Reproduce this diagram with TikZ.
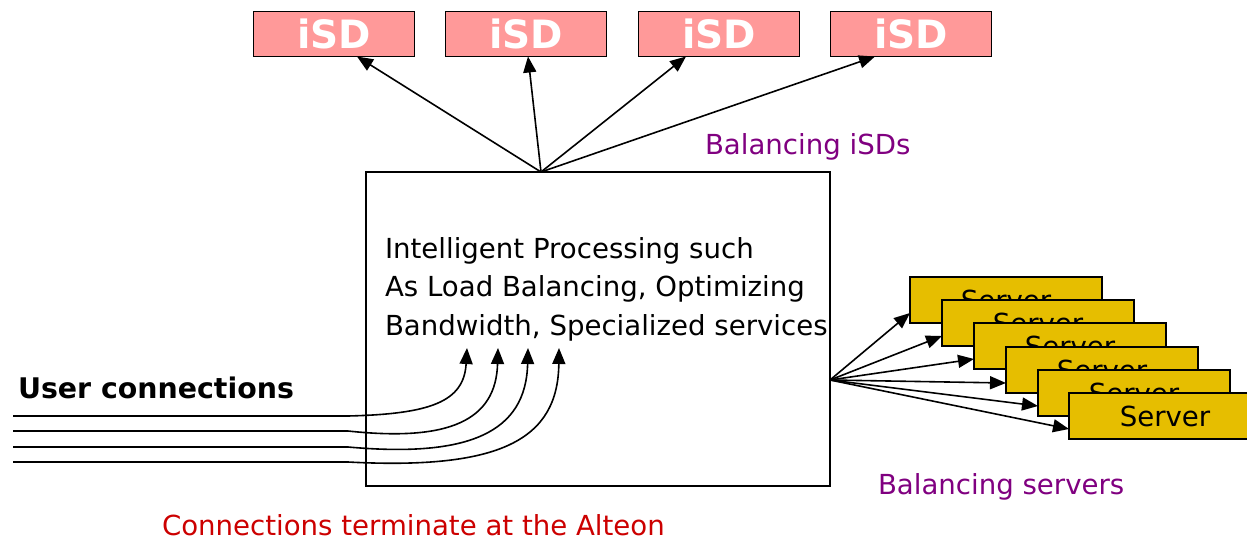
\documentclass[tikz,border=0pt]{standalone}
\usepackage{fontspec}
\setmainfont{DejaVu Sans}
\usetikzlibrary{arrows.meta}
\definecolor{isdpink}{RGB}{255,153,153}
\definecolor{srvgold}{RGB}{230,190,0}
\definecolor{lblpurple}{RGB}{128,0,128}
\definecolor{lblred}{RGB}{204,0,0}
\begin{document}
\begin{tikzpicture}[x=1pt, y=-1pt, line width=1.6pt,
    every node/.style={outer sep=0pt, inner sep=0pt},
    txt/.style={font=\fontsize{27.6}{38.5}\selectfont},
    isdbox/.style={draw, fill=isdpink, minimum width=161pt, minimum height=45pt, text=white, font=\fontsize{39}{40}\selectfont\bfseries},
    srvbox/.style={draw, fill=srvgold, minimum width=192pt, minimum height=46pt, txt},
    tip/.style={-{Triangle[length=16pt, width=13pt]}}]
    \useasboundingbox (0,0) rectangle (1247,541);
        \node[isdbox] (isd1) at (334, 34) {iSD};
        \node[isdbox] (isd2) at (526, 34) {iSD};
        \node[isdbox] (isd3) at (719, 34) {iSD};
        \node[isdbox] (isd4) at (911, 34) {iSD};
        \node[draw, minimum width=464pt, minimum height=314pt] (alteon) at (598, 329) {};
        \node[txt, anchor=west, align=left] (proc) at (385, 289) {Intelligent Processing such\\As Load Balancing, Optimizing\\Bandwidth, Specialized services};
        \node[txt, text=lblpurple, anchor=west] (balisd) at (705, 147) {Balancing iSDs};
        \node[txt, text=lblpurple, anchor=west] (balsrv) at (878, 487) {Balancing servers};
        \node[txt, text=lblred, anchor=west] (term) at (162, 525) {Connections terminate at the Alteon};
        \node[txt, font=\fontsize{28.4}{30}\selectfont\bfseries, anchor=west] (users) at (18, 388) {User connections};
        \node[srvbox] (srv1) at (1006, 300) {Server};
        \node[srvbox] (srv2) at (1038, 323) {Server};
        \node[srvbox] (srv3) at (1070, 346) {Server};
        \node[srvbox] (srv4) at (1102, 370) {Server};
        \node[srvbox] (srv5) at (1134, 393) {Server};
        \node[srvbox] (srv6) at (1165, 416) {Server};
        \coordinate (hub) at (541, 172);
        \coordinate (srvhub) at (830, 380);
        \draw[tip] (hub) -- ([xshift=23pt]isd1.south);
        \draw[tip] (hub) -- ([xshift=2pt]isd2.south);
        \draw[tip] (hub) -- ([xshift=-33pt]isd3.south);
        \draw[tip] (hub) -- ([xshift=-36pt]isd4.south);
        \draw[tip] (srvhub) -- ([yshift=10pt]srv1.south west);
        \draw[tip] (srvhub) -- ([yshift=10pt]srv2.south west);
        \draw[tip] (srvhub) -- ([yshift=10pt]srv3.south west);
        \draw[tip] (srvhub) -- ([yshift=10pt]srv4.south west);
        \draw[tip] (srvhub) -- ([yshift=10pt]srv5.south west);
        \draw[tip] (srvhub) -- ([yshift=10pt]srv6.south west);
        \coordinate (u1) at (13, 416);
        \coordinate (u2) at (13, 431);
        \coordinate (u3) at (13, 447);
        \coordinate (u4) at (13, 462);
        \coordinate (k1) at (348, 416);
        \coordinate (k2) at (348, 431);
        \coordinate (k3) at (348, 447);
        \coordinate (k4) at (348, 462);
        \coordinate (t1) at (467, 348);
        \coordinate (t2) at (498, 348);
        \coordinate (t3) at (528, 348);
        \coordinate (t4) at (559, 348);
        \draw[tip] (u1) -- (k1) .. controls (430, 414) and (464, 402) .. (t1);
        \draw[tip] (u2) -- (k2) .. controls (450, 442) and (496, 420) .. (t2);
        \draw[tip] (u3) -- (k3) .. controls (470, 458) and (526, 432) .. (t3);
        \draw[tip] (u4) -- (k4) .. controls (500, 470) and (558, 440) .. (t4);
\end{tikzpicture}
\end{document}
